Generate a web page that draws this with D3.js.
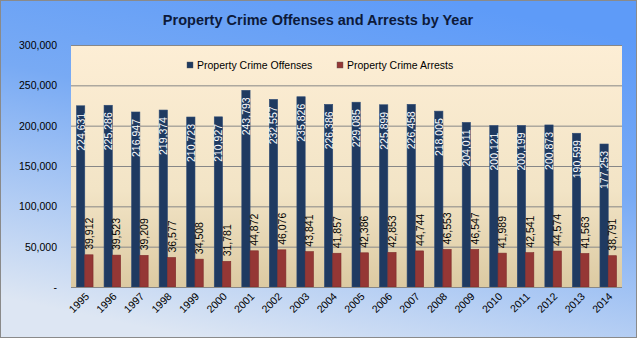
<!DOCTYPE html>
<html>
<head>
<meta charset="utf-8">
<script src="https://cdn.jsdelivr.net/npm/d3@7"></script>
<style>
  body { margin: 0; padding: 0; }
  svg { display: block; }
</style>
</head>
<body>
<div id="chart"></div>
<script>
// data
const years = ['1995','1996','1997','1998','1999','2000','2001','2002','2003','2004',
               '2005','2006','2007','2008','2009','2010','2011','2012','2013','2014'];
const offenses = [224631, 225286, 216947, 219374, 210723, 210927, 243793, 232557, 235826, 226386,
                  229085, 225899, 226458, 218005, 204011, 200121, 200199, 200873, 190599, 177253];
const arrests = [39912, 39523, 39209, 36577, 34508, 31781, 44872, 46076, 43841, 41857,
                 42386, 42853, 44744, 46553, 46547, 41989, 42541, 44574, 41563, 38791];
const seriesNames = ['Property Crime Offenses', 'Property Crime Arrests'];
const yTicks = [0, 50000, 100000, 150000, 200000, 250000, 300000];

const width = 637, height = 339;
const plot = { left: 71, right: 622, top: 45, bottom: 287 };
const colors = ['#1f3a61', '#953735'];
const font = '"Liberation Sans", Arial, sans-serif';

const svg = d3.select('#chart').append('svg')
    .attr('width', width)
    .attr('height', height);

const defs = svg.append('defs');
const bg = defs.append('linearGradient').attr('id', 'bg')
    .attr('x1', '70%').attr('y1', '0%').attr('x2', '30%').attr('y2', '100%');
bg.append('stop').attr('offset', '0%').attr('stop-color', '#5e9bf8');
bg.append('stop').attr('offset', '40%').attr('stop-color', '#78aaf4');
bg.append('stop').attr('offset', '100%').attr('stop-color', '#dde6f3');

const pg = defs.append('linearGradient').attr('id', 'plotbg')
    .attr('x1', 0).attr('y1', 0).attr('x2', 0).attr('y2', 1);
pg.append('stop').attr('offset', '0%').attr('stop-color', '#fdeed5');
pg.append('stop').attr('offset', '60%').attr('stop-color', '#f2e4c6');
pg.append('stop').attr('offset', '100%').attr('stop-color', '#dccaa2');

svg.append('rect')
    .attr('x', 0.5).attr('y', 0.5)
    .attr('width', width - 1).attr('height', height - 2)
    .attr('fill', 'url(#bg)')
    .attr('stroke', '#8a8a8a');

svg.append('rect')
    .attr('x', plot.left).attr('y', plot.top)
    .attr('width', plot.right - plot.left).attr('height', plot.bottom - plot.top)
    .attr('fill', 'url(#plotbg)');

// scales
const x0 = d3.scaleBand()
    .domain(years)
    .range([plot.left, plot.right])
    .paddingInner(0.4)
    .paddingOuter(0.2);

const x1 = d3.scaleBand()
    .domain([0, 1])
    .range([0, x0.bandwidth()]);

const y = d3.scaleLinear()
    .domain([0, 300000])
    .range([plot.bottom, plot.top]);

// gridlines
svg.append('g')
    .selectAll('line')
    .data(yTicks.slice(1))
    .enter().append('line')
    .attr('x1', plot.left).attr('x2', plot.right)
    .attr('y1', d => y(d) + 0.5).attr('y2', d => y(d) + 0.5)
    .attr('stroke', '#878787')
    .attr('stroke-width', 1);

// y axis labels
const fmt = d3.format(',');
svg.append('g')
    .selectAll('text')
    .data(yTicks)
    .enter().append('text')
    .attr('x', 57)
    .attr('y', d => y(d) + 4)
    .attr('text-anchor', 'end')
    .attr('font-family', font)
    .attr('font-size', 10.5)
    .attr('fill', '#000')
    .text(d => d === 0 ? '-' : fmt(d));

// bars
const rows = years.map((yr, i) => ({ year: yr, values: [offenses[i], arrests[i]] }));

const groups = svg.append('g')
    .selectAll('g')
    .data(rows)
    .enter().append('g')
    .attr('transform', d => 'translate(' + x0(d.year) + ',0)');

groups.selectAll('rect')
    .data(d => d.values.map((v, k) => ({ k: k, v: v })))
    .enter().append('rect')
    .attr('x', d => x1(d.k))
    .attr('y', d => y(d.v))
    .attr('width', x1.bandwidth())
    .attr('height', d => plot.bottom - y(d.v))
    .attr('fill', d => colors[d.k])
    .attr('stroke', d => d.k === 0 ? '#2d4a74' : '#7d2b2a')
    .attr('stroke-width', 0.6);

// data labels
groups.selectAll('text')
    .data(d => d.values.map((v, k) => ({ k: k, v: v })))
    .enter().append('text')
    .attr('transform', function(d) {
        let cx = x1(d.k) + x1.bandwidth() / 2 + 4;
        let cy = d.k === 0 ? y(d.v) + 7 : y(d.v) - 5;
        return 'translate(' + cx + ',' + cy + ') rotate(-90)';
    })
    .attr('text-anchor', d => d.k === 0 ? 'end' : 'start')
    .attr('font-family', font)
    .attr('font-size', 10.5)
    .attr('fill', d => d.k === 0 ? '#fff' : '#000')
    .text(d => fmt(d.v));

// axis line
svg.append('line')
    .attr('x1', plot.left).attr('x2', plot.right)
    .attr('y1', plot.bottom + 0.5).attr('y2', plot.bottom + 0.5)
    .attr('stroke', '#878787');

// x labels
svg.append('g')
    .selectAll('text')
    .data(years)
    .enter().append('text')
    .attr('transform', d => 'translate(' + (x0(d) + x0.bandwidth() / 2 + 5) + ',' + 297 + ') rotate(-45)')
    .attr('text-anchor', 'end')
    .attr('font-family', font)
    .attr('font-size', 10.5)
    .attr('fill', '#000')
    .text(d => d);

// title
svg.append('text')
    .attr('x', 318)
    .attr('y', 25)
    .attr('text-anchor', 'middle')
    .attr('font-family', font)
    .attr('font-weight', 'bold')
    .attr('font-size', 14.5)
    .attr('fill', '#0d1a3a')
    .text('Property Crime Offenses and Arrests by Year');

// legend
const legendX = [187, 337];
const legend = svg.append('g')
    .selectAll('g')
    .data(seriesNames)
    .enter().append('g')
    .attr('transform', (d, i) => 'translate(' + legendX[i] + ',62)');

legend.append('rect')
    .attr('width', 6).attr('height', 6)
    .attr('fill', (d, i) => colors[i])
    .attr('stroke', '#555').attr('stroke-width', 0.4);

legend.append('text')
    .attr('x', 10).attr('y', 6.5)
    .attr('font-family', font)
    .attr('font-size', 10.5)
    .attr('fill', '#000')
    .text(d => d);
</script>
</body>
</html>
